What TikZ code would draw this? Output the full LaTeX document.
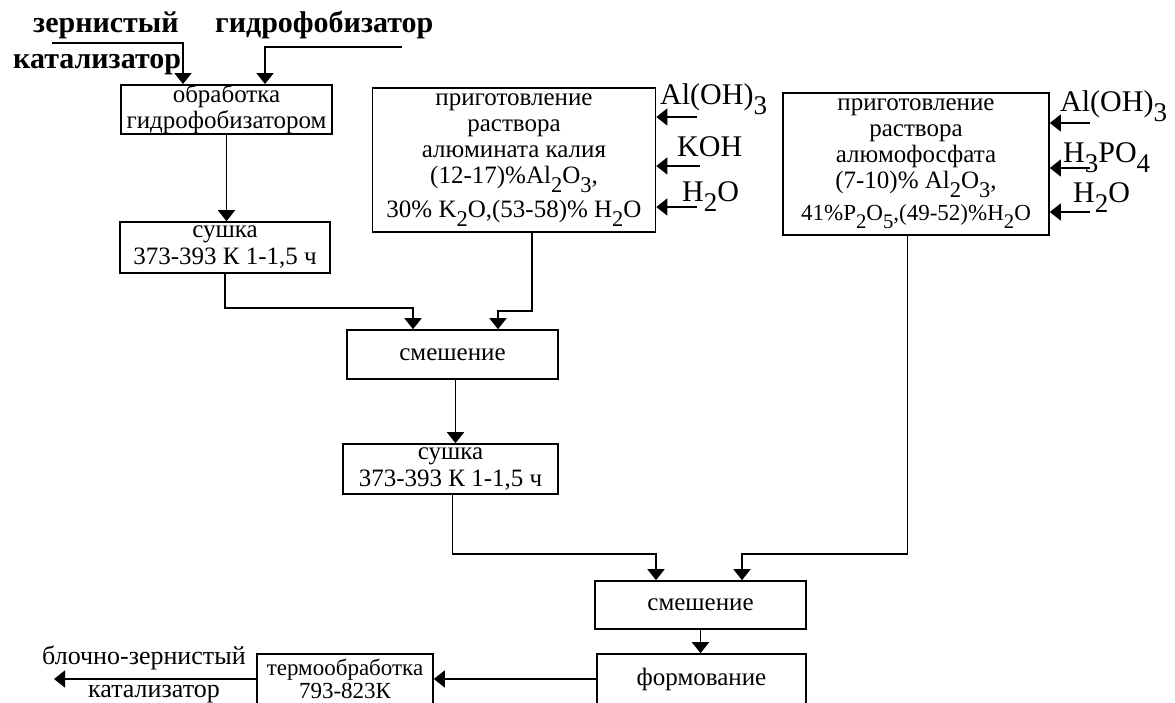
\documentclass[tikz,border=0pt]{standalone}
\usepackage{fontspec}
\usepackage{graphicx}
\setmainfont{Liberation Serif}
\usetikzlibrary{arrows.meta}

\newcommand{\lo}[1]{\raisebox{-0.33em}{\scalebox{0.9}{#1}}}

\tikzset{
  blk/.style={draw, line width=1.6pt, align=center, inner sep=0pt,
    font=\fontsize{25}{26}\selectfont},
  lbl/.style={inner sep=0pt, anchor=base west, font=\fontsize{30}{32}\selectfont},
  toplbl/.style={inner sep=0pt, anchor=base west, font=\bfseries\fontsize{30}{32}\selectfont},
  outlbl/.style={inner sep=0pt, anchor=base west, font=\fontsize{26}{28}\selectfont},
  arr/.style={-{Triangle[length=11pt,width=17pt]}, line width=1.6pt},
}

\begin{document}
\begin{tikzpicture}[x=1pt,y=-1pt]
      \useasboundingbox (0,0) rectangle (1175,703);
      % boxes
      \node[blk, minimum width=211, minimum height=49] (obr) at (226.5,109.5) {обработка\\гидрофобизатором};
      \node[blk, minimum width=210, minimum height=51] (sush1) at (225,247.5) {сушка\\[1pt]373-393 К 1-1,5 ч};
      \node[blk, minimum width=283, minimum height=144] (alum) at (514,160) {приготовление\\раствора\\алюмината калия\\(12-17)\%Al\lo{2}O\lo{3},\\[8pt]30\% K\lo{2}O,(53-58)\% H\lo{2}O};
      \node[blk, minimum width=266, minimum height=142] (fosf) at (916,164) {приготовление\\раствора\\алюмофосфата\\(7-10)\% Al\lo{2}O\lo{3},\\[6pt]{\fontsize{23}{26}\selectfont 41\%P\lo{2}O\lo{5},(49-52)\%H\lo{2}O}};
      \node[blk, minimum width=211, minimum height=49] (smesh1) at (452.5,354.5) {смешение};
      \node[blk, minimum width=215, minimum height=50] (sush2) at (450.5,469) {сушка\\[1pt]373-393 К 1-1,5 ч};
      \node[blk, minimum width=211, minimum height=48] (smesh2) at (700.5,605) {смешение};
      \node[blk, minimum width=209, minimum height=50] (form) at (701.5,679) {формование};
      \node[blk, minimum width=176, minimum height=50, font=\fontsize{23}{23}\selectfont] (term) at (345,679) {термообработка\\793-823К};
      % labels
      \node[toplbl] (zern) at (33,33) {зернистый};
      \node[toplbl] (kat) at (13,69) {катализатор};
      \node[toplbl] (gidr) at (215,33) {гидрофобизатор};
      \node[lbl] (al1) at (660,105) {Al(OH)\lo{3}};
      \node[lbl] (koh) at (677,157) {KOH};
      \node[lbl] (w1) at (682,202) {H\lo{2}O};
      \node[lbl] (al2) at (1060,112) {Al(OH)\lo{3}};
      \node[lbl] (hpo) at (1063,163) {H\lo{3}PO\lo{4}};
      \node[lbl] (w2) at (1073,203) {H\lo{2}O};
      \node[outlbl] (blz) at (42,664) {блочно-зернистый};
      \node[outlbl] (kat2) at (88,697) {катализатор};
      % inputs
      \coordinate (zk) at (52,43);
      \coordinate (gf) at (402,47);
      \coordinate (a1) at (697,117);
      \coordinate (a2) at (700,166);
      \coordinate (a3) at (697,207);
      \coordinate (b1) at (1090,123);
      \coordinate (b2) at (1090,168);
      \coordinate (b3) at (1090,212);
      \coordinate (out) at (54,679);
      \draw [arr] (zk) -| ([xshift=-43.5pt]obr.north);
      \draw [arr] (gf) -| ([xshift=38.5pt]obr.north);
      \draw [arr] (a1) -- (a1 -| alum.east);
      \draw [arr] (a2) -- (a2 -| alum.east);
      \draw [arr] (a3) -- (a3 -| alum.east);
      \draw [arr] (b1) -- (b1 -| fosf.east);
      \draw [arr] (b2) -- (b2 -| fosf.east);
      \draw [arr] (b3) -- (b3 -| fosf.east);
      % flow
      \draw [arr] (obr) -- (obr |- sush1.north);
      \draw [arr] (sush1.south) -- ++(0,34) -| ([xshift=-39.5pt]smesh1.north);
      \draw [arr] ([xshift=18pt]alum.south) -- ++(0,78) -| ([xshift=45.5pt]smesh1.north);
      \draw [arr] ([xshift=3pt]smesh1.south) -- ([xshift=3pt]smesh1.south |- sush2.north);
      \draw [arr] ([xshift=2pt]sush2.south) -- ++(0,59) -| ([xshift=-44.5pt]smesh2.north);
      \draw [arr] ([xshift=-8.5pt]fosf.south) -- ++(0,318) -| ([xshift=41.5pt]smesh2.north);
      \draw [arr] (smesh2) -- (smesh2 |- form.north);
      \draw [arr] (form.west) -- (term.east);
      \draw [arr] (term.west) -- (out);
    \end{tikzpicture}
\end{document}
